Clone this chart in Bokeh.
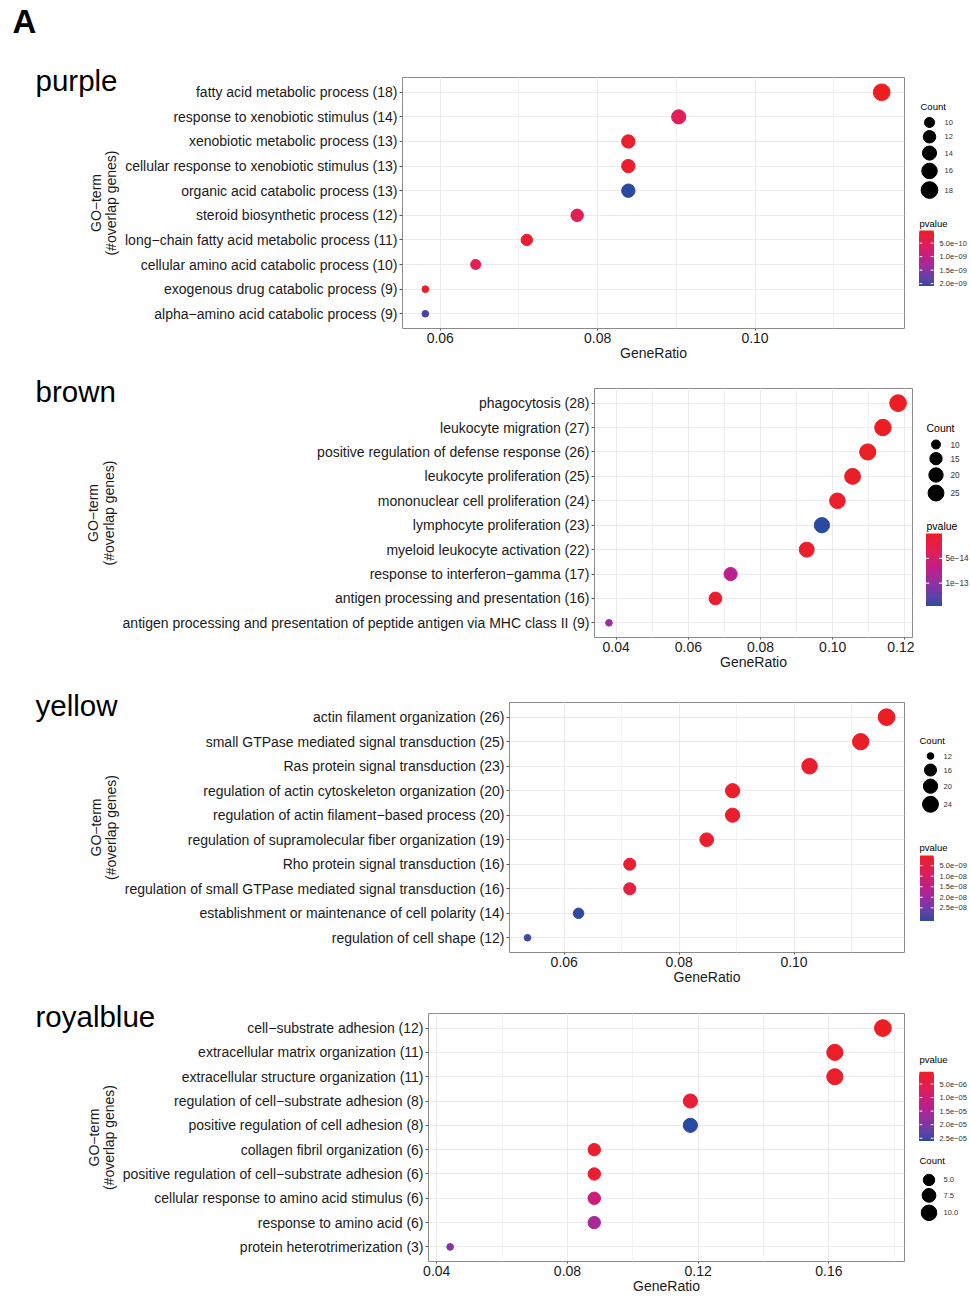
import numpy as np
from bokeh.core.properties import value
from bokeh.embed import file_html
from bokeh.layouts import column, row
from bokeh.models import (ColumnDataSource, FixedTicker, PrintfTickFormatter, Range1d,
                          SingleIntervalTicker, Title)
from bokeh.plotting import figure
from bokeh.resources import INLINE

FONT = "Liberation Sans"

# ---------------- purple module ----------------
purple_terms = [
    "fatty acid metabolic process (18)",
    "response to xenobiotic stimulus (14)",
    "xenobiotic metabolic process (13)",
    "cellular response to xenobiotic stimulus (13)",
    "organic acid catabolic process (13)",
    "steroid biosynthetic process (12)",
    "long\u2212chain fatty acid metabolic process (11)",
    "cellular amino acid catabolic process (10)",
    "exogenous drug catabolic process (9)",
    "alpha\u2212amino acid catabolic process (9)",
]
purple_count = [18, 14, 13, 13, 13, 12, 11, 10, 9, 9]
purple_ratio = [0.1161, 0.0903, 0.0839, 0.0839, 0.0839, 0.0774, 0.0710, 0.0645, 0.0581, 0.0581]
purple_pvalue = [3.1e-11, 5.2e-10, 9.2e-11, 1.1e-10, 2.07e-9, 4.8e-10, 1.3e-10, 4.4e-10, 9.0e-11, 1.93e-9]
purple_count_breaks = [10, 12, 14, 16, 18]
purple_count_labels = ["10", "12", "14", "16", "18"]
purple_p_breaks = [5e-10, 1e-9, 1.5e-9, 2e-9]
purple_p_labels = ["5.0e\u221210", "1.0e\u221209", "1.5e\u221209", "2.0e\u221209"]

# ---------------- brown module ----------------
brown_terms = [
    "phagocytosis (28)",
    "leukocyte migration (27)",
    "positive regulation of defense response (26)",
    "leukocyte proliferation (25)",
    "mononuclear cell proliferation (24)",
    "lymphocyte proliferation (23)",
    "myeloid leukocyte activation (22)",
    "response to interferon\u2212gamma (17)",
    "antigen processing and presentation (16)",
    "antigen processing and presentation of peptide antigen via MHC class II (9)",
]
brown_count = [28, 27, 26, 25, 24, 23, 22, 17, 16, 9]
brown_ratio = [0.1181, 0.1139, 0.1097, 0.1055, 0.1013, 0.0970, 0.0928, 0.0717, 0.0675, 0.0380]
brown_pvalue = [2.1e-17, 3.5e-16, 1.2e-15, 2.6e-15, 4.8e-15, 1.45e-13, 5.5e-15, 7.25e-14, 7.3e-15, 9.4e-14]
brown_count_breaks = [10, 15, 20, 25]
brown_count_labels = ["10", "15", "20", "25"]
brown_p_breaks = [5e-14, 1e-13]
brown_p_labels = ["5e\u221214", "1e\u221213"]

# ---------------- yellow module ----------------
yellow_terms = [
    "actin filament organization (26)",
    "small GTPase mediated signal transduction (25)",
    "Ras protein signal transduction (23)",
    "regulation of actin cytoskeleton organization (20)",
    "regulation of actin filament\u2212based process (20)",
    "regulation of supramolecular fiber organization (19)",
    "Rho protein signal transduction (16)",
    "regulation of small GTPase mediated signal transduction (16)",
    "establishment or maintenance of cell polarity (14)",
    "regulation of cell shape (12)",
]
yellow_count = [26, 25, 23, 20, 20, 19, 16, 16, 14, 12]
yellow_ratio = [0.1161, 0.1116, 0.1027, 0.0893, 0.0893, 0.0848, 0.0714, 0.0714, 0.0625, 0.0536]
yellow_pvalue = [2e-10, 6e-10, 1.5e-9, 1.2e-9, 1.5e-9, 1.8e-9, 2.05e-9, 3.9e-9, 3.1e-8, 2.98e-8]
yellow_count_breaks = [12, 16, 20, 24]
yellow_count_labels = ["12", "16", "20", "24"]
yellow_p_breaks = [5e-9, 1e-8, 1.5e-8, 2e-8, 2.5e-8]
yellow_p_labels = ["5.0e\u221209", "1.0e\u221208", "1.5e\u221208", "2.0e\u221208", "2.5e\u221208"]

# ---------------- royalblue module ----------------
royalblue_terms = [
    "cell\u2212substrate adhesion (12)",
    "extracellular matrix organization (11)",
    "extracellular structure organization (11)",
    "regulation of cell\u2212substrate adhesion (8)",
    "positive regulation of cell adhesion (8)",
    "collagen fibril organization (6)",
    "positive regulation of cell\u2212substrate adhesion (6)",
    "cellular response to amino acid stimulus (6)",
    "response to amino acid (6)",
    "protein heterotrimerization (3)",
]
royalblue_count = [12, 11, 11, 8, 8, 6, 6, 6, 6, 3]
royalblue_ratio = [0.1765, 0.1618, 0.1618, 0.1176, 0.1176, 0.0882, 0.0882, 0.0882, 0.0882, 0.0441]
royalblue_pvalue = [5e-7, 1.0e-6, 1.2e-6, 2.0e-6, 2.6e-5, 1.5e-6, 2.3e-6, 1.07e-5, 1.58e-5, 1.89e-5]
royalblue_count_breaks = [5, 7.5, 10]
royalblue_count_labels = ["5.0", "7.5", "10.0"]
royalblue_p_breaks = [5e-6, 1e-5, 1.5e-5, 2e-5, 2.5e-5]
royalblue_p_labels = ["5.0e\u221206", "1.0e\u221205", "1.5e\u221205", "2.0e\u221205", "2.5e\u221205"]

# ---------------- colour scale: low p = red, high p = blue ----------------
GRADIENT_STOPS = [0.0, 0.25, 0.5, 0.75, 1.0]
GRADIENT_COLORS = ["#EC1E24", "#E01F5A", "#BC1F8E", "#8233A6", "#2A4AA2"]


def hex_to_lab(h):
    rgb = [int(h[i:i + 2], 16) / 255 for i in (1, 3, 5)]
    lin = [c / 12.92 if c <= 0.04045 else ((c + 0.055) / 1.055) ** 2.4 for c in rgb]
    x = (0.4124564 * lin[0] + 0.3575761 * lin[1] + 0.1804375 * lin[2]) / 0.95047
    y = 0.2126729 * lin[0] + 0.7151522 * lin[1] + 0.0721750 * lin[2]
    z = (0.0193339 * lin[0] + 0.1191920 * lin[1] + 0.9503041 * lin[2]) / 1.08883

    def f(t):
        return t ** (1 / 3) if t > 216 / 24389 else (24389 / 27 * t + 16) / 116

    fx, fy, fz = f(x), f(y), f(z)
    return (116 * fy - 16, 500 * (fx - fy), 200 * (fy - fz))


def lab_to_hex(L, a, b):
    fy = (L + 16) / 116
    fx = fy + a / 500
    fz = fy - b / 200

    def finv(t):
        return t ** 3 if t ** 3 > 216 / 24389 else (116 * t - 16) / (24389 / 27)

    x, y, z = finv(fx) * 0.95047, finv(fy), finv(fz) * 1.08883
    r = 3.2404542 * x - 1.5371385 * y - 0.4985314 * z
    g = -0.9692660 * x + 1.8760108 * y + 0.0415560 * z
    bl = 0.0556434 * x - 0.2040259 * y + 1.0572252 * z

    def enc(c):
        c = max(0.0, min(1.0, c))
        c = 12.92 * c if c <= 0.0031308 else 1.055 * c ** (1 / 2.4) - 0.055
        return int(round(c * 255))

    return "#%02x%02x%02x" % (enc(r), enc(g), enc(bl))


STOP_LAB = [hex_to_lab(c) for c in GRADIENT_COLORS]


def gradient(t):
    t = min(max(t, 0.0), 1.0)
    for k in range(len(GRADIENT_STOPS) - 1):
        if t <= GRADIENT_STOPS[k + 1] or k == len(GRADIENT_STOPS) - 2:
            u = (t - GRADIENT_STOPS[k]) / (GRADIENT_STOPS[k + 1] - GRADIENT_STOPS[k])
            a, b = STOP_LAB[k], STOP_LAB[k + 1]
            return lab_to_hex(*[lo + (hi - lo) * u for lo, hi in zip(a, b)])


def point_diameter(count, cmin, cmax):
    # area-style size scale with a size range of 3..8
    t = (np.asarray(count, dtype=float) - cmin) / (cmax - cmin)
    size = 3 + 5 * np.sqrt(t)
    return 0.705 * (2.845 * size + 0.945)


# ---------------- page geometry (pixels) ----------------
PAGE_W = 970
MAIN_W = 914
HEADER_H = 40
TITLE_STANDOFF = -38

PANELS = [
    dict(name="purple", terms=purple_terms, count=purple_count, ratio=purple_ratio,
         pvalue=purple_pvalue, cbreaks=purple_count_breaks, clabels=purple_count_labels,
         pbreaks=purple_p_breaks, plabels=purple_p_labels, step=0.02,
         top=HEADER_H, bottom=372, fl=402, ft=77, fr=904, fb=328,
         count_title=(920, 105.5), key_x=929, key_y0=122, key_lab_x=944,
         p_title=(919, 222.5), bar=(919, 933, 230, 285), bar_lab_x=939, legend_scale=1.0),
    dict(name="brown", terms=brown_terms, count=brown_count, ratio=brown_ratio,
         pvalue=brown_pvalue, cbreaks=brown_count_breaks, clabels=brown_count_labels,
         pbreaks=brown_p_breaks, plabels=brown_p_labels, step=0.02,
         top=372, bottom=684, fl=594, ft=388, fr=912, fb=637,
         count_title=(926, 427), key_x=935.5, key_y0=444, key_lab_x=950,
         p_title=(926, 525), bar=(925.5, 941.5, 533, 605), bar_lab_x=945, legend_scale=1.1),
    dict(name="yellow", terms=yellow_terms, count=yellow_count, ratio=yellow_ratio,
         pvalue=yellow_pvalue, cbreaks=yellow_count_breaks, clabels=yellow_count_labels,
         pbreaks=yellow_p_breaks, plabels=yellow_p_labels, step=0.02,
         top=684, bottom=993, fl=509, ft=702, fr=904, fb=952,
         count_title=(919, 740), key_x=930, key_y0=755.5, key_lab_x=943,
         p_title=(919, 847), bar=(919.5, 933, 855, 920), bar_lab_x=939, legend_scale=1.0),
    dict(name="royalblue", terms=royalblue_terms, count=royalblue_count, ratio=royalblue_ratio,
         pvalue=royalblue_pvalue, cbreaks=royalblue_count_breaks, clabels=royalblue_count_labels,
         pbreaks=royalblue_p_breaks, plabels=royalblue_p_labels, step=0.04,
         top=993, bottom=1296, fl=428, ft=1013, fr=904, fb=1264,
         count_title=(919, 1162), key_x=928.5, key_y0=1181.5, key_lab_x=943,
         p_title=(919, 1060), bar=(919, 933, 1072, 1142), bar_lab_x=939, legend_scale=1.0),
]


def build_header():
    # a thin strip whose own title carries the panel letter
    hd = figure(width=PAGE_W, height=HEADER_H, x_range=Range1d(0, PAGE_W),
                y_range=Range1d(0, 1), output_backend="svg", title="A",
                toolbar_location=None, tools="", x_axis_type=None, y_axis_type=None,
                min_border=0, min_border_left=0, min_border_right=0,
                min_border_top=HEADER_H - 2, min_border_bottom=0)
    hd.outline_line_color = None
    hd.grid.visible = False
    hd.title.align = "left"
    hd.title.offset = 12
    hd.title.standoff = -2
    hd.title.vertical_align = "bottom"
    hd.title.text_font = FONT
    hd.title.text_font_size = "33px"
    hd.title.text_font_style = "bold"
    hd.title.text_color = "black"
    return hd


def build_main(cfg):
    terms, count, ratio, pv = cfg["terms"], cfg["count"], cfg["ratio"], cfg["pvalue"]
    n = len(terms)
    ys = [n - i for i in range(n)]
    cmin, cmax = min(count), max(count)
    pmin, pmax = min(pv), max(pv)
    colors = [gradient((v - pmin) / (pmax - pmin)) for v in pv]
    sizes = point_diameter(count, cmin, cmax)

    lo, hi = min(ratio), max(ratio)
    span = hi - lo
    height = cfg["bottom"] - cfg["top"]

    p = figure(width=MAIN_W, height=height,
               x_range=Range1d(lo - 0.05 * span, hi + 0.05 * span),
               y_range=Range1d(0.4, n + 0.6),
               output_backend="svg", toolbar_location=None, tools="",
               min_border_left=cfg["fl"], min_border_right=MAIN_W - cfg["fr"],
               min_border_top=cfg["ft"] - cfg["top"],
               min_border_bottom=cfg["bottom"] - cfg["fb"])
    p.background_fill_color = "white"
    p.border_fill_color = "white"
    p.outline_line_color = "#8a8a8a"
    p.outline_line_width = 1

    xt = SingleIntervalTicker(interval=cfg["step"], num_minor_ticks=2)
    p.xaxis.ticker = xt
    p.xgrid.ticker = xt
    p.xaxis.formatter = PrintfTickFormatter(format="%.2f")
    yt = FixedTicker(ticks=ys, minor_ticks=[])
    p.yaxis.ticker = yt
    p.ygrid.ticker = yt
    p.yaxis.major_label_overrides = {y: t for y, t in zip(ys, terms)}

    p.xgrid.grid_line_color = "#ebebeb"
    p.xgrid.minor_grid_line_color = "#f3f3f3"
    p.ygrid.grid_line_color = "#ebebeb"

    for ax in (p.xaxis, p.yaxis):
        ax.axis_line_color = None
        ax.major_tick_in = 0
        ax.major_tick_out = 3
        ax.major_tick_line_color = "#555555"
        ax.minor_tick_line_color = None
        ax.major_label_text_font = FONT
        ax.major_label_text_font_size = "14px"
        ax.major_label_text_color = "#1a1a1a"
        ax.axis_label_text_font = FONT
        ax.axis_label_text_font_size = "14px"
        ax.axis_label_text_font_style = "normal"
        ax.axis_label_text_color = "#1a1a1a"
    p.xaxis.major_tick_out = 2
    p.xaxis.major_label_standoff = 0
    p.xaxis.axis_label = "GeneRatio"
    p.xaxis.axis_label_standoff = -1
    p.yaxis.major_label_standoff = 2
    p.yaxis.axis_label = "GO\u2212term\n(#overlap genes)"
    p.yaxis.axis_label_text_line_height = 0.95
    p.yaxis.axis_label_standoff = 3

    src = ColumnDataSource(dict(x=ratio, y=ys, size=sizes, color=colors))
    p.scatter("x", "y", size="size", fill_color="color", line_color="color", source=src)

    # module name at the upper left of the panel
    p.add_layout(Title(text=cfg["name"], align="left", offset=35 - cfg["fl"],
                       standoff=TITLE_STANDOFF, vertical_align="bottom",
                       text_font=FONT, text_font_size="29.5px", text_font_style="normal",
                       text_color="black"), "above")
    return p


def build_legend(cfg):
    count, pv = cfg["count"], cfg["pvalue"]
    cmin, cmax = min(count), max(count)
    pmin, pmax = min(pv), max(pv)
    s = cfg["legend_scale"]
    height = cfg["bottom"] - cfg["top"]
    # the frame of this figure lines up with the frame of its panel
    lg = figure(width=PAGE_W - MAIN_W, height=height,
                x_range=Range1d(MAIN_W, PAGE_W), y_range=Range1d(cfg["fb"], cfg["ft"]),
                output_backend="svg", toolbar_location=None, tools="",
                x_axis_type=None, y_axis_type=None, min_border=0,
                min_border_left=0, min_border_right=0)
    lg.outline_line_color = None
    lg.grid.visible = False
    lg.background_fill_color = "white"
    lg.border_fill_color = "white"

    title_size = "%.1fpx" % (9.5 * s)
    lab_size = "%.1fpx" % (7.5 * s)

    # size legend
    d = point_diameter(cfg["cbreaks"], cmin, cmax)
    h = np.maximum(13.0, d + 3.0)
    centers = [cfg["key_y0"]]
    for i in range(1, len(d)):
        centers.append(centers[-1] + (h[i - 1] + h[i]) / 2)
    lg.text(x=[cfg["count_title"][0]], y=[cfg["count_title"][1]], text=["Count"],
            text_font=value(FONT), text_font_size=title_size, text_baseline="middle",
            text_color="black")
    lg.scatter(x=[cfg["key_x"]] * len(d), y=centers, size=d, color="black")
    lg.text(x=[cfg["key_lab_x"]] * len(d), y=centers, text=cfg["clabels"],
            text_font=value(FONT), text_font_size=lab_size, text_baseline="middle",
            text_color="#333333")

    # colour bar: stacked slices, each one painted down to the bar's lower end
    bl, br, bt, bb = cfg["bar"]
    nslice = 60
    edges = np.linspace(bt, bb, nslice + 1)
    cols = [gradient((i + 0.5) / nslice) for i in range(nslice)]
    lg.quad(left=bl, right=br, top=edges[:-1], bottom=[bb] * nslice, fill_color=cols,
            line_color=None)
    ty = [bt + (v - pmin) / (pmax - pmin) * (bb - bt) for v in cfg["pbreaks"]]
    tw = (br - bl) * 0.2
    lg.segment(x0=[bl] * len(ty), x1=[bl + tw] * len(ty), y0=ty, y1=ty,
               line_color="white", line_width=1)
    lg.segment(x0=[br - tw] * len(ty), x1=[br] * len(ty), y0=ty, y1=ty,
               line_color="white", line_width=1)
    lg.text(x=[cfg["bar_lab_x"]] * len(ty), y=ty, text=cfg["plabels"],
            text_font=value(FONT), text_font_size=lab_size, text_baseline="middle",
            text_color="#333333")
    lg.text(x=[cfg["p_title"][0]], y=[cfg["p_title"][1]], text=["pvalue"],
            text_font=value(FONT), text_font_size=title_size, text_baseline="middle",
            text_color="black")
    return lg


rows = [build_header()]
for cfg in PANELS:
    rows.append(row(build_main(cfg), build_legend(cfg), spacing=0))

page = column(*rows, spacing=0)

with open("out.html", "w") as fh:
    fh.write(file_html(page, INLINE))
